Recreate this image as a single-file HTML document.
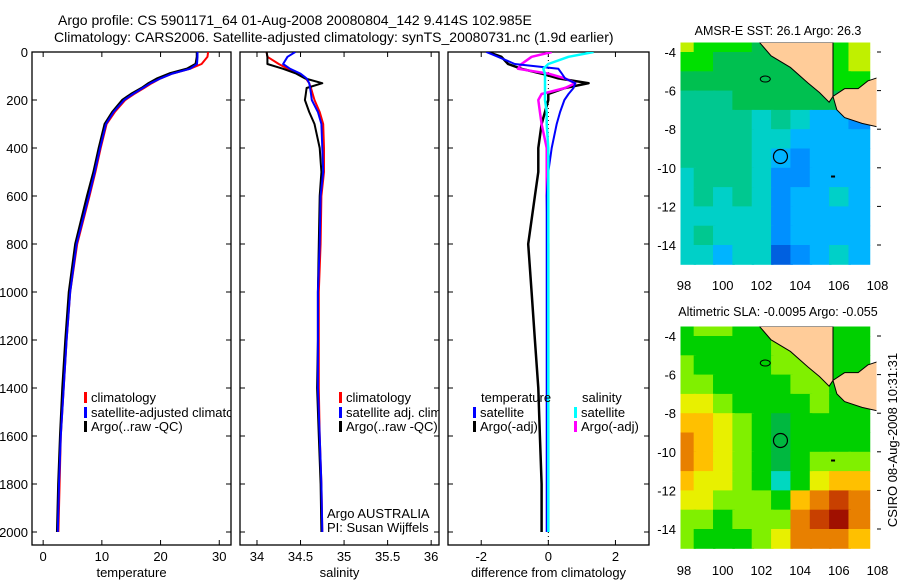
<!DOCTYPE html>
<html><head><meta charset="utf-8">
<style>
html,body{margin:0;padding:0;background:#fff;}
svg{display:block;font-family:"Liberation Sans","DejaVu Sans",sans-serif;}
text{font-size:13px;fill:#000;}
</style></head>
<body>
<svg id="chart" width="900" height="580" viewBox="0 0 900 580" xmlns="http://www.w3.org/2000/svg">
<rect width="900" height="580" fill="#fff"/>
<text x="58" y="25" style="font-size:14px">Argo profile: CS 5901171_64 01-Aug-2008 20080804_142 9.414S 102.985E</text>
<text x="54" y="42" style="font-size:14px">Climatology: CARS2006. Satellite-adjusted climatology: synTS_20080731.nc (1.9d earlier)</text>
<defs>
<clipPath id="c1"><rect x="32" y="52" width="199" height="493"/></clipPath>
<clipPath id="c2"><rect x="240" y="52" width="199" height="493"/></clipPath>
<clipPath id="c3"><rect x="448" y="52" width="201" height="493"/></clipPath>
<clipPath id="m1"><rect x="680" y="42" width="197" height="229"/></clipPath>
<clipPath id="m2"><rect x="680" y="326" width="197" height="230"/></clipPath>
</defs>
<g id="layer"></g>
<text transform="translate(897,440) rotate(-90)" text-anchor="middle">CSIRO 08-Aug-2008 10:31:31</text>
</svg>
<script>
// ---------- data ----------
const depths = [0,20,50,70,90,110,130,150,175,200,250,300,400,500,600,800,1000,1200,1400,1600,1800,2000];
const tempClim = [28.1,28.0,27.0,25,22,20,18.5,17.2,15.5,14,12.2,10.8,9.8,8.9,7.9,5.8,4.6,4.0,3.5,3.0,2.8,2.6];
const tempSat = [26.3,26.3,26.2,25,22,20,18.3,17,15.3,13.8,12,10.7,9.7,8.8,7.8,5.7,4.6,4.0,3.5,3.0,2.7,2.5];
const tempArgo = [26.2,26.2,26.0,24.5,21.5,19.5,18,16.8,15,13.5,11.8,10.5,9.5,8.6,7.5,5.5,4.4,3.8,3.3,2.9,2.6,2.4];
const salClim = [34.11,34.12,34.25,34.35,34.48,34.56,34.6,34.62,34.64,34.66,34.72,34.76,34.77,34.77,34.74,34.73,34.71,34.71,34.71,34.72,34.74,34.75];
const salSat = [34.44,34.35,34.3,34.38,34.5,34.57,34.6,34.61,34.62,34.63,34.7,34.74,34.75,34.76,34.73,34.72,34.7,34.70,34.70,34.72,34.74,34.75];
const salArgo = [34.11,34.12,34.12,34.3,34.45,34.55,34.75,34.57,34.56,34.55,34.6,34.66,34.72,34.74,34.72,34.71,34.7,34.70,34.69,34.71,34.73,34.74];
const dTempSat = [-1.85,-1.5,-1.0,0.3,0.4,0.5,0.8,0.75,0.6,0.48,0.35,0.25,0.1,0.0,-0.05,-0.05,-0.05,-0.05,-0.05,-0.05,-0.05,-0.05];
const dTempArgo = [-1.8,-1.4,-1.2,-0.8,-0.2,0.3,1.2,0.5,0.0,0.0,-0.1,-0.2,-0.3,-0.3,-0.4,-0.6,-0.5,-0.4,-0.3,-0.25,-0.2,-0.2];
const dSalSat = [1.35,0.6,0.0,-0.15,-0.1,-0.1,-0.1,-0.1,-0.1,-0.1,-0.05,-0.05,0,0,0,0,0,0,0,0,0,0];
const dSalArgo = [0.1,-0.5,-0.8,-0.9,0.0,0.5,0.8,0.5,-0.2,-0.3,-0.25,-0.2,-0.05,-0.05,-0.05,0,0,0,0,0,0,0];
const depthTicks = [0,200,400,600,800,1000,1200,1400,1600,1800,2000];
const tempTicks = [0,10,20,30];
const salTicks = ["34","34.5","35","35.5","36"];
const diffTicks = [-2,0,2];
const mapLonTicks = [98,100,102,104,106,108];
const mapLatTicks = [-4,-6,-8,-10,-12,-14];
const mapLons = [98,99,100,101,102,103,104,105,106,107];
const mapLats = [-3.5,-4.5,-5.5,-6.5,-7.5,-8.5,-9.5,-10.5,-11.5,-12.5,-13.5,-14.5];
const sstGrid = [
[7,6,6,6,5,5,5,5,6,7],[6,6,5,5,5,5,5,5,6,7],[5,5,5,5,5,5,5,5,6,6],[4,4,4,5,5,5,5,5,5,5],
[4,4,4,4,3,4,3,2,2,1],[4,4,4,4,3,3,2,2,2,2],[4,4,4,4,3,2,1,2,2,2],[3,4,4,4,3,1,1,2,2,2],
[3,4,3,4,3,1,2,2,3,2],[3,3,3,3,3,1,2,2,2,2],[3,4,3,3,3,1,2,2,2,2],[3,3,2,3,3,0,1,2,3,2]];
const slaGrid = [
[2,3,3,2,2,3,3,3,2,2],[2,2,2,1.5,2,3,3,3,2,2],[3,2,1.5,1.5,2,2.5,3,3,2,2],[3,3,2,1.5,1.5,2,3,3,2,2],
[4,3.5,3,2,1.5,1.5,2,3,2,2],[5,4.5,3.5,2.5,1.5,1,1.5,2,2,1.5],[6,5,4,3,2,1,1.5,2,2,2],[5.5,4.5,4,3,2,0.5,1.5,3,3,3],
[5,4,3.5,3,2,0.3,2,4,5,5],[4,3.5,3,3,2.5,1.5,5,6,6.5,6],[3,2.5,2,2.5,3,3,6,7,8,6],[2.5,2,1.5,2,3,4,5.5,6,6,5]];
const sumatra = [[101.9,-3.5],[102.5,-4.2],[103.5,-4.8],[104.4,-5.6],[105.0,-6.1],[105.5,-6.6],[105.7,-6.3],[105.7,-3.5]];
const java = [[105.7,-6.3],[106.3,-5.9],[107.0,-5.9],[107.5,-5.5],[108.1,-5.3],[108.1,-7.9],[107.2,-7.7],[106.3,-7.4],[105.9,-7.0]];
const argoLon = 102.985, argoLat = -9.414;

// ---------- helpers ----------
const NS="http://www.w3.org/2000/svg";
const layer=document.getElementById('layer');
function mk(tag,attrs,parent){const e=document.createElementNS(NS,tag);for(const k in attrs)e.setAttribute(k,attrs[k]);(parent||layer).appendChild(e);return e;}
const yD = d => 52 + d*0.24;

function panel(name,x0,x1,xmin,xmax,clip,xticks,xlabel){
  const g=mk('g',{});
  
  
  const sx=v=>x0+(v-xmin)/(xmax-xmin)*(x1-x0);
  const box=mk('rect',{x:x0,y:52,width:x1-x0,height:493,fill:'none',stroke:'#000','stroke-width':1.3},g);
  
  
  depthTicks.forEach(d=>{
    mk('line',{x1:x0,x2:x0+5,y1:yD(d),y2:yD(d),stroke:'#000'},g);
    mk('line',{x1:x1,x2:x1-5,y1:yD(d),y2:yD(d),stroke:'#000'},g);
  });
  xticks.forEach(t=>{
    const v=parseFloat(t),X=sx(v);
    mk('line',{x1:X,x2:X,y1:545,y2:540,stroke:'#000'},g);
    mk('line',{x1:X,x2:X,y1:52,y2:57,stroke:'#000'},g);
    const tl=mk('text',{x:X,y:561,'text-anchor':'middle'},g);tl.textContent=t;
    
    
  });
  const xl=mk('text',{x:(x0+x1)/2,y:577,'text-anchor':'middle'},g);xl.textContent=xlabel;
  
  
  const inner=mk('g',{'clip-path':'url(#'+clip+')'},g);
  return {g,inner,sx};
}
function line(p,vals,color,w,name){
  const pts=vals.map((v,i)=>p.sx(v).toFixed(1)+','+yD(depths[i]).toFixed(1)).join(' ');
  const l=mk('polyline',{points:pts,fill:'none',stroke:color,'stroke-width':w,'stroke-linejoin':'round'},p.inner);
  
  
}
function legend(p,x,y,color,label,name){
  mk('rect',{x:x,y:y-10,width:3,height:11,fill:color},p.inner);
  const t=mk('text',{x:x+7,y:y},p.inner);t.textContent=label;
  
  
}

// depth labels
depthTicks.forEach(d=>{
  const t=mk('text',{x:28,y:yD(d)+5,'text-anchor':'end'});t.textContent=d;
  
  
});

// panel 1 temperature
const p1=panel('temperature-panel',32,231,-1.9,32,'c1',tempTicks.map(String),'temperature');
line(p1,tempClim,'#f00',2,'temp-climatology-line');
line(p1,tempArgo,'#000',2.5,'temp-argo-line');
line(p1,tempSat,'#00f',2,'temp-satellite-line');
legend(p1,84,402,'#f00','climatology','legend-climatology');
legend(p1,84,417,'#00f','satellite-adjusted climatology','legend-satellite-adjusted');
legend(p1,84,431,'#000','Argo(..raw -QC)','legend-argo');

// panel 2 salinity
const p2=panel('salinity-panel',240,439,33.805,36.09,'c2',salTicks,'salinity');
line(p2,salClim,'#f00',2,'sal-climatology-line');
line(p2,salArgo,'#000',2,'sal-argo-line');
line(p2,salSat,'#00f',2,'sal-satellite-line');
legend(p2,339,402,'#f00','climatology','legend-climatology');
legend(p2,339,417,'#00f','satellite adj. clim.','legend-satellite-adj');
legend(p2,339,431,'#000','Argo(..raw -QC)','legend-argo');
const aa=mk('text',{x:327,y:518},p2.g);aa.textContent='Argo AUSTRALIA';


const pi=mk('text',{x:327,y:532},p2.g);pi.textContent='PI: Susan Wijffels';



// panel 3 differences
const p3=panel('difference-panel',448,649,-2.99,3.0,'c3',diffTicks.map(String),'difference from climatology');
mk('line',{x1:p3.sx(0),x2:p3.sx(0),y1:52,y2:545,stroke:'#000','stroke-dasharray':'1,3'},p3.inner);
line(p3,dTempArgo,'#000',2.5,'diff-temp-argo-line');
line(p3,dSalArgo,'#f0f',2.5,'diff-sal-argo-line');
line(p3,dTempSat,'#00f',2,'diff-temp-satellite-line');
line(p3,dSalSat,'#0ff',2.5,'diff-sal-satellite-line');
const tt=mk('text',{x:481,y:402},p3.inner);tt.textContent='temperature';


const st=mk('text',{x:582,y:402},p3.inner);st.textContent='salinity';


legend(p3,473,417,'#00f','satellite','legend-temp-satellite');
legend(p3,473,431,'#000','Argo(-adj)','legend-temp-argo');
legend(p3,574,417,'#0ff','satellite','legend-sal-satellite');
legend(p3,574,431,'#f0f','Argo(-adj)','legend-sal-argo');

// ---------- maps ----------
const sstColors=['#0060e0','#0090ff','#00b4ff','#00d0c8','#00c890','#00c050','#00e000','#c0f000'];
const slaColors=['#00d8c0','#00b840','#00d000','#80f000','#e8f000','#ffc000','#e88000','#c84000','#a01000'];
function interp(cols,v){const i=Math.max(0,Math.min(cols.length-1,Math.round(v)));return cols[i];}
function map(name,top,bottom,lat4y,lat14y,grid,cols,clip,title,titleY,labelY){
  const g=mk('g',{});
  
  
  const sx=lon=>684+(lon-98)*19.35;
  const sy=lat=>lat4y+(-4-lat)*(lat14y-lat4y)/10;
  const inner=mk('g',{'clip-path':'url(#'+clip+')'},g);
  grid.forEach((row,r)=>row.forEach((v,c)=>{
    const x0=sx(mapLons[c]-0.5), x1=sx(mapLons[c]+0.6);
    const y0=sy(mapLats[r]+0.5), y1=sy(mapLats[r]-0.5);
    const cell=mk('rect',{x:x0,y:y0,width:x1-x0+0.5,height:y1-y0+0.5,fill:interp(cols,v)},inner);
    
    
  }));
  [sumatra,java].forEach((poly,i)=>{
    const p=mk('polygon',{points:poly.map(q=>sx(q[0])+','+sy(q[1])).join(' '),fill:'#ffcc99',stroke:'#000','stroke-width':1},inner);
    
    
  });
  mk('ellipse',{cx:sx(102.2),cy:sy(-5.4),rx:5,ry:3,fill:'none',stroke:'#000'},inner);
  mk('rect',{x:sx(105.6),y:sy(-10.4),width:4,height:2,fill:'#000'},inner);
  const circ=mk('circle',{cx:sx(argoLon),cy:sy(argoLat),r:7,fill:'none',stroke:'#000','stroke-width':1.2},inner);
  
  
  mk('rect',{x:680,y:top,width:197,height:bottom-top,fill:'none',stroke:'#fff','stroke-width':1},g);
  mapLatTicks.forEach(l=>{
    const t=mk('text',{x:676,y:sy(l)+5,'text-anchor':'end'},g);t.textContent=l;
    
    
    mk('line',{x1:877,x2:881,y1:sy(l),y2:sy(l),stroke:'#000'},g);
  });
  mapLonTicks.forEach(l=>{
    const t=mk('text',{x:sx(l),y:labelY,'text-anchor':'middle'},g);t.textContent=l;
    
    
  });
  const tl=mk('text',{x:778,y:titleY,'text-anchor':'middle',style:'font-size:12.5px'},g);tl.textContent=title;
  
  
}
map('sst-map',42,271,52,245,sstGrid,sstColors,'m1','AMSR-E SST: 26.1 Argo: 26.3',35,290);
map('sla-map',326,556,336,529,slaGrid,slaColors,'m2','Altimetric SLA: -0.0095 Argo: -0.055',316,575);
</script>
</body></html>
